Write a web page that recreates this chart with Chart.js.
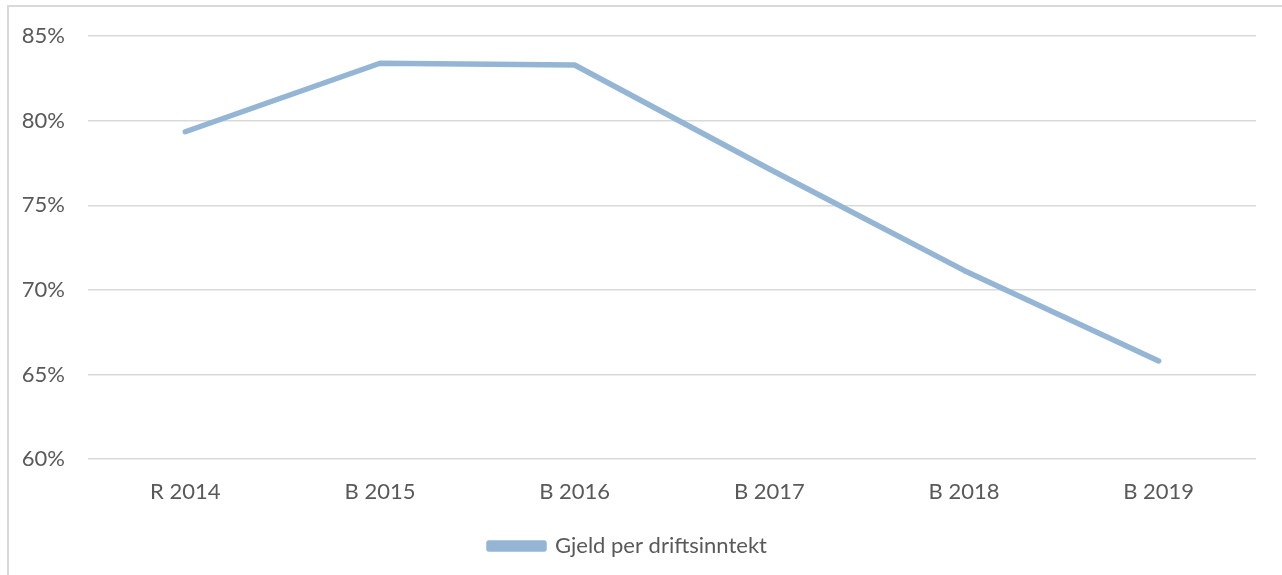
<!DOCTYPE html>
<html>
<head>
<meta charset="utf-8">
<script src="https://cdn.jsdelivr.net/npm/chart.js@4.4.0/dist/chart.umd.min.js"></script>
<style>
  html, body { margin: 0; padding: 0; background: #fff; }
  #frame {
    position: absolute; left: 7px; top: 5px; width: 1290px; height: 590px;
    border: 2px solid #d9d9d9; box-sizing: border-box;
  }
  #wrap { position: absolute; left: 0; top: 0; width: 1282px; height: 575px; }
</style>
</head>
<body>
<div id="frame"></div>
<div id="wrap"><canvas id="chart"></canvas></div>
<script>
// Data
const categories = ["R 2014", "B 2015", "B 2016", "B 2017", "B 2018", "B 2019"];
const seriesName = "Gjeld per driftsinntekt";
const values = [79.35, 83.4, 83.3, 77.15, 71.15, 65.8];
const yTicks = [60, 65, 70, 75, 80, 85];

const textColor = "#595959";
const gridColor = "#d9d9d9";
const lineColor = "#94b6d4";
const font = { family: "Lato, 'Open Sans', sans-serif", size: 22 };

const ctx = document.getElementById("chart").getContext("2d");
new Chart(ctx, {
  type: "line",
  data: {
    labels: categories,
    datasets: [{
      label: seriesName,
      data: values,
      borderColor: lineColor,
      backgroundColor: lineColor,
      borderWidth: 5.5,
      borderCapStyle: "round",
      borderJoinStyle: "round",
      pointRadius: 0,
      tension: 0
    }]
  },
  options: {
    responsive: true,
    maintainAspectRatio: false,
    animation: false,
    layout: { padding: { left: 0, right: 26, top: 35, bottom: 8 } },
    scales: {
      x: {
        offset: true,
        grid: { display: false, drawTicks: false, offset: true },
        border: { display: false },
        ticks: { color: textColor, font: font, padding: 20, maxRotation: 0 },
        afterFit: (scale) => { scale.height = 66; }
      },
      y: {
        min: 60,
        max: 85,
        afterBuildTicks: (scale) => { scale.ticks = yTicks.map(v => ({ value: v })); },
        grid: { color: gridColor, lineWidth: 1.5, drawTicks: false },
        border: { display: false },
        ticks: {
          color: textColor, font: font, padding: 23,
          callback: (v) => v + "%"
        },
        afterFit: (scale) => { scale.width = 88; }
      }
    },
    plugins: {
      legend: {
        position: "bottom",
        labels: {
          color: textColor,
          font: font,
          boxWidth: 55,
          boxHeight: 6,
          padding: 10
        }
      },
      tooltip: { enabled: false }
    }
  }
});
</script>
</body>
</html>
